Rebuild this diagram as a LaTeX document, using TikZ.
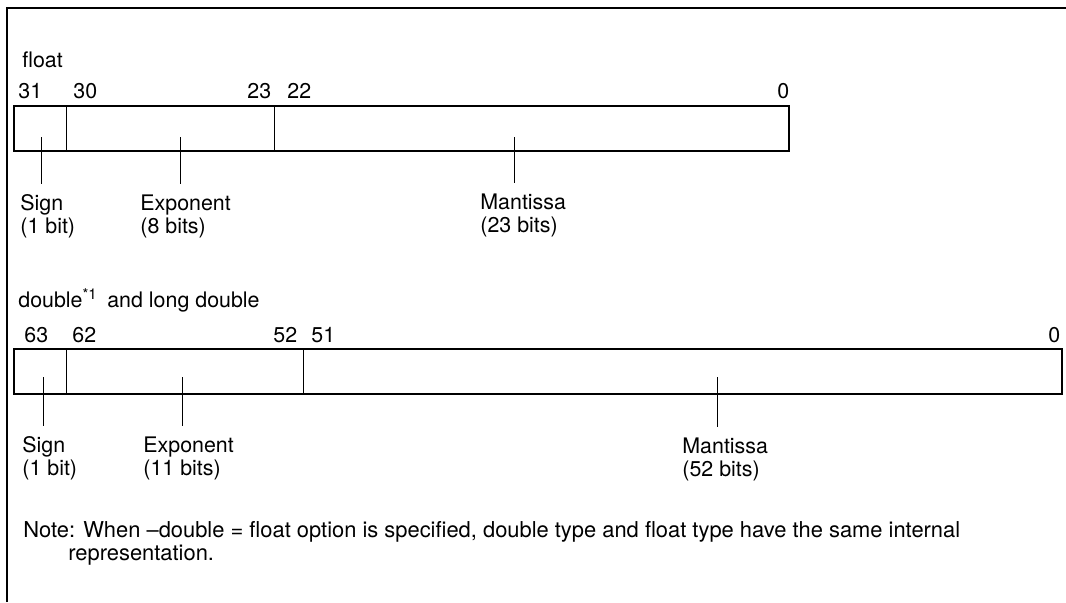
\documentclass[tikz,border=0pt]{standalone}
\usepackage{fontspec}
\setmainfont{TeX Gyre Heros}
\usepackage{tikz}
\usetikzlibrary{positioning,calc}

\begin{document}
\begin{tikzpicture}[
  x=0.5pt, y=-0.5pt,
  every node/.style={font=\fontsize{10.7}{11.5}\selectfont},
  regbox/.style={draw, line width=1pt, anchor=north west, inner sep=0pt, minimum height=22.5pt},
  divline/.style={line width=0.5pt},
  ptr/.style={line width=0.5pt, shorten >=5pt},
  lbl/.style={anchor=north west, align=left, inner sep=0pt},
  bitno/.style={anchor=base west, inner sep=0pt},
  title/.style={anchor=base west, inner sep=0pt},
  frame/.style={line width=0.8pt}
]
  \useasboundingbox (0,0) rectangle (1066,602);
  \draw[frame] (7,602) -- (7,8) -- (1066,8);

  \node[title] (ftitle) at (22,67) {float};
  \node[bitno] (f31) at (18,98) {31};
  \node[bitno] (f30) at (73,98) {30};
  \node[bitno] (f23) at (247,98) {23};
  \node[bitno] (f22) at (287,98) {22};
  \node[bitno] (f0) at (777,98) {0};
  \node[regbox, minimum width=387.5pt] (fbox) at (13,105) {};
  \draw[divline] (66,105) -- (66,150);
  \draw[divline] (274,105) -- (274,150);
  \coordinate (fsp) at (41,137);
  \coordinate (fep) at (180,137);
  \coordinate (fmp) at (514,137);
  \node[lbl] (fsl) at (20,194) {Sign\\(1 bit)};
  \node[lbl] (fel) at (140,194) {Exponent\\(8 bits)};
  \node[lbl] (fml) at (480,193) {Mantissa\\(23 bits)};
  \draw[ptr] (fsp) -- (fsp |- fsl.north);
  \draw[ptr] (fep) -- (fep |- fel.north);
  \draw[ptr] (fmp) -- (fmp |- fml.north);

  \node[title] (dtitle) at (18,307) {double\textsuperscript{*1}\, and long double};
  \node[bitno] (d63) at (24,342) {63};
  \node[bitno] (d62) at (72,342) {62};
  \node[bitno] (d52) at (273,342) {52};
  \node[bitno] (d51) at (311,342) {51};
  \node[bitno] (d0) at (1048,342) {0};
  \node[regbox, minimum width=524pt] (dbox) at (13,348) {};
  \draw[divline] (66,348) -- (66,393);
  \draw[divline] (303,348) -- (303,393);
  \coordinate (dsp) at (43,377);
  \coordinate (dep) at (182,377);
  \coordinate (dmp) at (717,377);
  \node[lbl] (dsl) at (22,436) {Sign\\(1 bit)};
  \node[lbl] (del) at (143,436) {Exponent\\(11 bits)};
  \node[lbl] (dml) at (682,437) {Mantissa\\(52 bits)};
  \draw[ptr] (dsp) -- (dsp |- dsl.north);
  \draw[ptr] (dep) -- (dep |- del.north);
  \draw[ptr] (dmp) -- (dmp |- dml.north);

  \node[title, align=left, font=\fontsize{10.95}{11.5}\selectfont] (note) at (23,560) {Note: When --double = float option is specified, double type and float type have the same internal\\\hspace*{22.5pt}representation.};
\end{tikzpicture}
\end{document}
